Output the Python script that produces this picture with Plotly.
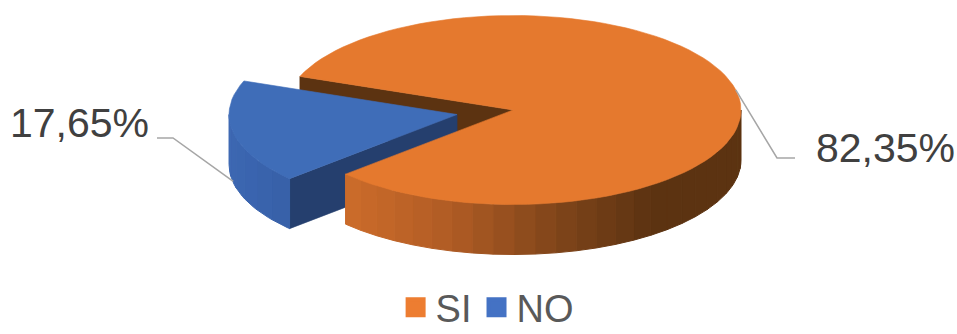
import numpy as np
import plotly.graph_objects as go

# ---- data ----
labels = ["SI", "NO"]
values = [82.35, 17.65]
top_colors = ["#E5792E", "#3F6DB8"]
wall_colors = ["#5C3311", "#253F6E"]
explode = [0.0, 0.25]

# ---- geometry of the 3D pie (pixel space) ----
W, H = 957, 334
CX, CY = 513, 110
RX, RY = 228, 94.5
DEPTH = 50
START = 200.8  # parametric angle (deg, screen y-down) where first slice starts

total = sum(values)
spans = [v / total * 360 for v in values]
a0s = [START + sum(spans[:i]) for i in range(len(values))]
a1s = [a0s[i] + spans[i] for i in range(len(values))]
mids = [(a0s[i] + a1s[i]) / 2 for i in range(len(values))]
offs = [(explode[i] * RX * np.cos(np.radians(mids[i])),
         explode[i] * RY * np.sin(np.radians(mids[i]))) for i in range(len(values))]


def pt(t, i, z=0.0):
    ox, oy = offs[i]
    r = np.radians(t)
    return CX + ox + RX * np.cos(r), CY + oy + RY * np.sin(r) + z


def arc(t0, t1, i, z=0.0, n=120):
    ts = np.linspace(t0, t1, max(2, int(abs(t1 - t0) / 360 * n) + 2))
    xs, ys = zip(*[pt(t, i, z) for t in ts])
    return list(xs), list(ys)


fig = go.Figure()


def poly(xs, ys, color, lw=0.6):
    fig.add_trace(go.Scatter(x=list(xs) + [xs[0]], y=list(ys) + [ys[0]], mode="lines",
                             fill="toself", fillcolor=color,
                             line=dict(color=color, width=lw),
                             hoverinfo="skip", showlegend=False))


def top_face(i):
    xs, ys = arc(a0s[i], a1s[i], i)
    cx, cy = CX + offs[i][0], CY + offs[i][1]
    poly([cx] + xs, [cy] + ys, top_colors[i])


def radial_walls(i):
    cx, cy = CX + offs[i][0], CY + offs[i][1]
    for a, sign in ((a0s[i], -1), (a1s[i], 1)):
        c = np.cos(np.radians(a))
        visible = (c < 0) if sign == -1 else (c > 0)
        if visible:
            ex, ey = pt(a, i)
            poly([cx, ex, ex, cx], [cy, ey, ey + DEPTH, cy + DEPTH], wall_colors[i])


def lerp_color(stops, x):
    xs = [s[0] for s in stops]
    rgb = [np.interp(x, xs, [s[1][k] for s in stops]) for k in range(3)]
    return "rgb(%d,%d,%d)" % tuple(int(round(v)) for v in rgb)


def outer_wall(i, stops, nstrips):
    # visible part: front half (sin > 0)
    lo, hi = a0s[i], a1s[i]
    segs = []
    for k in range(-1, 3):
        s0, s1 = max(lo, 360 * k), min(hi, 360 * k + 180)
        if s1 > s0:
            segs.append((s0, s1))
    for s0, s1 in segs:
        edges = np.linspace(s0, s1, nstrips + 1)
        for j in range(nstrips):
            e0, e1 = edges[j], edges[j + 1]
            xt, yt = arc(e0, e1, i, 0, 720)
            xb, yb = arc(e1, e0, i, DEPTH, 720)
            midx = pt((e0 + e1) / 2, i)[0]
            poly(xt + xb, yt + yb, lerp_color(stops, midx), lw=1.0)


orange_stops = [(351, (203, 107, 42)), (450, (176, 92, 36)), (560, (126, 68, 26)),
                (650, (92, 51, 17)), (760, (92, 51, 17))]
blue_stops = [(230, (60, 103, 178)), (300, (54, 94, 166))]

# draw back to front
radial_walls(0)
radial_walls(1)
outer_wall(1, blue_stops, 6)
top_face(1)
outer_wall(0, orange_stops, 26)
top_face(0)

# ---- data labels with leader lines ----
label_text = [f"{v:.2f}%".replace(".", ",") for v in values]
ax_r = pt(-12.3, 0)
ax_l = pt(mids[1], 1, DEPTH - 1)
leaders = [
    ([ax_r[0], 777, 795], [ax_r[1], 158, 158]),
    ([ax_l[0], 173, 157], [ax_l[1], 138, 138]),
]
for xs, ys in leaders:
    fig.add_trace(go.Scatter(x=xs, y=ys, mode="lines", line=dict(color="#A6A6A6", width=1.5),
                             hoverinfo="skip", showlegend=False))

font_fam = "Liberation Sans, Arial, sans-serif"
fig.add_annotation(x=814, y=148, text=label_text[0], showarrow=False, xanchor="left",
                   yanchor="middle", font=dict(size=41, color="#404040", family=font_fam))
fig.add_annotation(x=151, y=123, text=label_text[1], showarrow=False, xanchor="right",
                   yanchor="middle", font=dict(size=41, color="#404040", family=font_fam))

# ---- legend entries ----
legend_colors = ["#ED7D31", "#4472C4"]
for lab, col in zip(labels, legend_colors):
    fig.add_trace(go.Scatter(x=[None], y=[None], mode="markers", name=lab,
                             marker=dict(symbol="square", size=16, color=col,
                                         line=dict(color=col, width=4))))

fig.update_layout(
    width=W, height=H,
    margin=dict(l=0, r=0, t=0, b=0, autoexpand=False),
    paper_bgcolor="white", plot_bgcolor="white",
    xaxis=dict(range=[0, W], visible=False, fixedrange=True),
    yaxis=dict(range=[H, 0], visible=False, fixedrange=True),
    legend=dict(orientation="h", x=0.509, xanchor="center", y=-0.015, yanchor="bottom",
                font=dict(size=38, color="#595959", family=font_fam),
                itemsizing="trace", bgcolor="rgba(0,0,0,0)"),
    font=dict(family=font_fam),
)

fig.write_html("out.html")
